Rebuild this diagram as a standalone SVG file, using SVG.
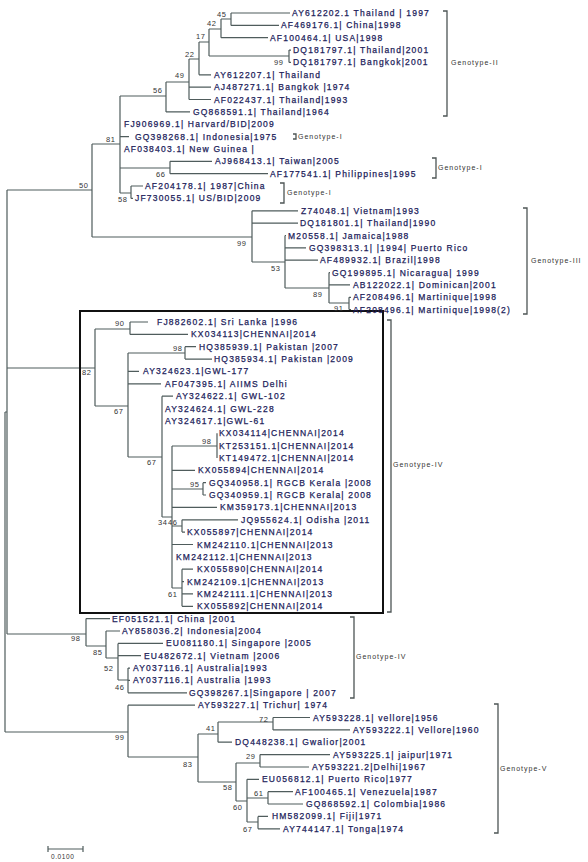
<svg xmlns="http://www.w3.org/2000/svg" width="588" height="862" viewBox="0 0 588 862">
<style>
.t{font-family:"Liberation Sans",Arial,sans-serif;font-size:8.5px;letter-spacing:1.2px;fill:#211d5a;stroke:#211d5a;stroke-width:0.25}
.b{font-family:"Liberation Sans",Arial,sans-serif;font-size:7.5px;letter-spacing:0.6px;fill:#333}
.g{font-family:"Liberation Sans",Arial,sans-serif;font-size:7px;letter-spacing:1px;fill:#333}
.e{stroke:#4f5c5c;stroke-width:1.2;fill:none}
.br{stroke:#4d5555;stroke-width:1.3;fill:none}
</style>
<rect width="588" height="862" fill="#fff"/>
<g id="connectors">
<path class="e" d="M5,412V732M5,412H7M7,190V634M7,190H92M7,368H95M7,634H86M5,732H128
M92,144V237M92,144H120M92,237H252
M120,96V193M120,96H166M120,136.6H129M120,168H170M120,193H131
M166,82V112M166,82H189M166,111.9H190
M189,59V99.5M189,59H199M189,87.2H211M189,99.5H211
M199,42V74.8M199,42H209M199,74.8H211
M209,29V56M209,29H221M209,56H289
M221,19V37.7M221,19H231M221,37.7H268
M231,13V25.4M231,13H290M231,25.4H279
M289,50.1V62.4M289,50.1H291M289,62.4H291
M170,161.3V173.7M170,161.3H212M170,173.7H268
M131,186V198.4M131,186H143M131,198.4H133
M252,210.8V262M252,210.8H298M252,223.1H298M252,262H285
M285,235.5V288M285,235.5H286M285,247.8H306M285,260.2H318M285,288H329
M329,272.6V303M329,272.6H330M329,284.9H350M329,303H349
M349,297.3V309.6M349,297.3H351M349,309.6H351
M95,329V406M95,329H130M95,406H128
M130,322V334.4M130,322H148M130,334.4H188
M128,353V457M128,353H185M128,371.4H139M128,383.8H161M128,457H162
M185,346.7V359.1M185,346.7H196M185,359.1H212
M162,396.2V517M162,396.2H173M162,517H172
M172,446V588M172,446H217M172,470.3H195M172,489H203M172,507.4H217M172,526H182M172,544.5H193M172,588H182
M217,433.2V458
M203,482.7V495M203,482.7H206M203,495H206
M182,519.8V532.1M182,519.8H238M182,532.1H185
M182,569.2V606.3M182,569.2H193M182,581.6H184M182,593.9H193M182,606.3H193
M86,618.6V646M86,618.6H110M86,646H106
M106,631V658M106,631H120M106,658H118
M118,643.4V680M118,643.4H163M118,655.7H141M118,680H128
M128,668.1V692.8M128,668.1H130M128,680.4H130M128,692.8H187
M128,705.2V757M128,705.2H195M128,757H198
M198,734V782M198,734H218M198,782H236
M218,722V742.2M218,722H273M218,742.2H232
M273,717.5V729.9M273,717.5H310M273,729.9H350
M236,763V801M236,763H260M236,801H247
M260,754.6V767M260,754.6H330M260,767H309
M247,779.3V822M247,779.3H259M247,798H268M247,822H258
M268,791.7V804M268,791.7H293M268,804H303
M258,816.4V828.8M258,816.4H268M258,828.8H280"/>
</g>
<g id="highlight-box"><rect x="80" y="311" width="303" height="302" fill="none" stroke="#111" stroke-width="2"/></g>
<g id="brackets">
<path class="br" d="M443,11H447V116H443M293,134H296V139H293M432,158H436V178H432M280,183H284V203H280M523,208H527V314H523M387,320H391V612H387M350,617H354V698H350M494,704H498V833H494"/>
</g>
<g id="genotype-labels">
<text class="g" x="451" y="65">Genotype-II</text>
<text class="g" x="298" y="139">Genotype-I</text>
<text class="g" x="438" y="170">Genotype-I</text>
<text class="g" x="287" y="195">Genotype-I</text>
<text class="g" x="531" y="263">Genotype-III</text>
<text class="g" x="393" y="467">Genotype-IV</text>
<text class="g" x="356" y="659">Genotype-IV</text>
<text class="g" x="500" y="771">Genotype-V</text>
</g>
<g id="bootstrap">
<text class="b" x="217" y="17">45</text>
<text class="b" x="207" y="26">42</text>
<text class="b" x="196" y="39">17</text>
<text class="b" x="274" y="65">99</text>
<text class="b" x="185" y="57">22</text>
<text class="b" x="175" y="78">49</text>
<text class="b" x="153" y="93">56</text>
<text class="b" x="106" y="142">81</text>
<text class="b" x="156" y="177">66</text>
<text class="b" x="118" y="202">58</text>
<text class="b" x="79" y="188">50</text>
<text class="b" x="237" y="246">99</text>
<text class="b" x="271" y="271">53</text>
<text class="b" x="313" y="297">89</text>
<text class="b" x="334" y="311">91</text>
<text class="b" x="115" y="326">90</text>
<text class="b" x="82" y="375">82</text>
<text class="b" x="173" y="351">98</text>
<text class="b" x="114" y="414">67</text>
<text class="b" x="202" y="444">98</text>
<text class="b" x="147" y="465">67</text>
<text class="b" x="190" y="487">95</text>
<text class="b" x="158" y="525">34</text>
<text class="b" x="168" y="525">46</text>
<text class="b" x="168" y="597">61</text>
<text class="b" x="71" y="641">98</text>
<text class="b" x="93" y="655">85</text>
<text class="b" x="104" y="671">52</text>
<text class="b" x="115" y="690">46</text>
<text class="b" x="115" y="740">99</text>
<text class="b" x="259" y="722">72</text>
<text class="b" x="206" y="731">41</text>
<text class="b" x="246" y="759">29</text>
<text class="b" x="183" y="767">83</text>
<text class="b" x="223" y="790">58</text>
<text class="b" x="254" y="796">61</text>
<text class="b" x="233" y="810">60</text>
<text class="b" x="243" y="832">67</text>
</g>
<g id="leaf01"><text class="t" x="292" y="16">AY612202.1 Thailand | 1997</text></g>
<g id="leaf02"><text class="t" x="281" y="28.4">AF469176.1| China|1998</text></g>
<g id="leaf03"><text class="t" x="270" y="40.7">AF100464.1| USA|1998</text></g>
<g id="leaf04"><text class="t" x="293" y="53.1">DQ181797.1| Thailand|2001</text></g>
<g id="leaf05"><text class="t" x="293" y="65.4">DQ181797.1| Bangkok|2001</text></g>
<g id="leaf06"><text class="t" x="214" y="77.8">AY612207.1| Thailand</text></g>
<g id="leaf07"><text class="t" x="214" y="90.2">AJ487271.1| Bangkok |1974</text></g>
<g id="leaf08"><text class="t" x="214" y="102.5">AF022437.1| Thailand|1993</text></g>
<g id="leaf09"><text class="t" x="193" y="114.9">GQ868591.1| Thailand|1964</text></g>
<g id="leaf10"><text class="t" x="124" y="127.2">FJ906969.1| Harvard/BID|2009</text></g>
<g id="leaf11"><text class="t" x="135" y="139.6">GQ398268.1| Indonesia|1975</text></g>
<g id="leaf12"><text class="t" x="124" y="152">AF038403.1| New Guinea |</text></g>
<g id="leaf13"><text class="t" x="215" y="164.3">AJ968413.1| Taiwan|2005</text></g>
<g id="leaf14"><text class="t" x="270" y="176.7">AF177541.1| Philippines|1995</text></g>
<g id="leaf15"><text class="t" x="145" y="189">AF204178.1| 1987|China</text></g>
<g id="leaf16"><text class="t" x="135" y="201.4">JF730055.1| US/BID|2009</text></g>
<g id="leaf17"><text class="t" x="301" y="213.8">Z74048.1| Vietnam|1993</text></g>
<g id="leaf18"><text class="t" x="300" y="226.1">DQ181801.1| Thailand|1990</text></g>
<g id="leaf19"><text class="t" x="288" y="238.5">M20558.1| Jamaica|1988</text></g>
<g id="leaf20"><text class="t" x="309" y="250.8">GQ398313.1| |1994| Puerto Rico</text></g>
<g id="leaf21"><text class="t" x="320" y="263.2">AF489932.1| Brazil|1998</text></g>
<g id="leaf22"><text class="t" x="332" y="275.6">GQ199895.1| Nicaragua| 1999</text></g>
<g id="leaf23"><text class="t" x="353" y="287.9">AB122022.1| Dominican|2001</text></g>
<g id="leaf24"><text class="t" x="353" y="300.3">AF208496.1| Martinique|1998</text></g>
<g id="leaf25"><text class="t" x="353" y="312.6">AF208496.1| Martinique|1998(2)</text></g>
<g id="leaf26"><text class="t" x="157" y="325">FJ882602.1| Sri Lanka |1996</text></g>
<g id="leaf27"><text class="t" x="191" y="337.4">KX034113|CHENNAI|2014</text></g>
<g id="leaf28"><text class="t" x="199" y="349.7">HQ385939.1| Pakistan |2007</text></g>
<g id="leaf29"><text class="t" x="214" y="362.1">HQ385934.1| Pakistan |2009</text></g>
<g id="leaf30"><text class="t" x="143" y="374.4">AY324623.1|GWL-177</text></g>
<g id="leaf31"><text class="t" x="165" y="386.8">AF047395.1| AIIMS Delhi</text></g>
<g id="leaf32"><text class="t" x="176" y="399.2">AY324622.1| GWL-102</text></g>
<g id="leaf33"><text class="t" x="165" y="411.5">AY324624.1| GWL-228</text></g>
<g id="leaf34"><text class="t" x="165" y="423.9">AY324617.1|GWL-61</text></g>
<g id="leaf35"><text class="t" x="219" y="436.2">KX034114|CHENNAI|2014</text></g>
<g id="leaf36"><text class="t" x="219" y="448.6">KT253151.1|CHENNAI|2014</text></g>
<g id="leaf37"><text class="t" x="219" y="461">KT149472.1|CHENNAI|2014</text></g>
<g id="leaf38"><text class="t" x="198" y="473.3">KX055894|CHENNAI|2014</text></g>
<g id="leaf39"><text class="t" x="209" y="485.7">GQ340958.1| RGCB Kerala |2008</text></g>
<g id="leaf40"><text class="t" x="209" y="498">GQ340959.1| RGCB Kerala| 2008</text></g>
<g id="leaf41"><text class="t" x="220" y="510.4">KM359173.1|CHENNAI|2013</text></g>
<g id="leaf42"><text class="t" x="241" y="522.8">JQ955624.1| Odisha |2011</text></g>
<g id="leaf43"><text class="t" x="187" y="535.1">KX055897|CHENNAI|2014</text></g>
<g id="leaf44"><text class="t" x="197" y="547.5">KM242110.1|CHENNAI|2013</text></g>
<g id="leaf45"><text class="t" x="176" y="559.8">KM242112.1|CHENNAI|2013</text></g>
<g id="leaf46"><text class="t" x="197" y="572.2">KX055890|CHENNAI|2014</text></g>
<g id="leaf47"><text class="t" x="187" y="584.6">KM242109.1|CHENNAI|2013</text></g>
<g id="leaf48"><text class="t" x="197" y="596.9">KM242111.1|CHENNAI|2013</text></g>
<g id="leaf49"><text class="t" x="197" y="609.3">KX055892|CHENNAI|2014</text></g>
<g id="leaf50"><text class="t" x="112" y="621.6">EF051521.1| China |2001</text></g>
<g id="leaf51"><text class="t" x="122" y="634">AY858036.2| Indonesia|2004</text></g>
<g id="leaf52"><text class="t" x="166" y="646.4">EU081180.1| Singapore |2005</text></g>
<g id="leaf53"><text class="t" x="144" y="658.7">EU482672.1| Vietnam |2006</text></g>
<g id="leaf54"><text class="t" x="133" y="671.1">AY037116.1| Australia|1993</text></g>
<g id="leaf55"><text class="t" x="133" y="683.4">AY037116.1| Australia |1993</text></g>
<g id="leaf56"><text class="t" x="189" y="695.8">GQ398267.1|Singapore | 2007</text></g>
<g id="leaf57"><text class="t" x="198" y="708.2">AY593227.1| Trichur| 1974</text></g>
<g id="leaf58"><text class="t" x="313" y="720.5">AY593228.1| vellore|1956</text></g>
<g id="leaf59"><text class="t" x="353" y="732.9">AY593222.1| Vellore|1960</text></g>
<g id="leaf60"><text class="t" x="235" y="745.2">DQ448238.1| Gwalior|2001</text></g>
<g id="leaf61"><text class="t" x="333" y="757.6">AY593225.1| jaipur|1971</text></g>
<g id="leaf62"><text class="t" x="312" y="770">AY593221.2|Delhi|1967</text></g>
<g id="leaf63"><text class="t" x="262" y="782.3">EU056812.1| Puerto Rico|1977</text></g>
<g id="leaf64"><text class="t" x="295" y="794.7">AF100465.1| Venezuela|1987</text></g>
<g id="leaf65"><text class="t" x="306" y="807">GQ868592.1| Colombia|1986</text></g>
<g id="leaf66"><text class="t" x="272" y="819.4">HM582099.1| Fiji|1971</text></g>
<g id="leaf67"><text class="t" x="283" y="831.8">AY744147.1| Tonga|1974</text></g>
<g id="scale-bar">
<path class="e" d="M48,849H83M48,846V852M83,846V852"/>
<text class="g" x="51" y="859" style="font-size:6.5px;letter-spacing:0.6px">0.0100</text>
</g>
</svg>
